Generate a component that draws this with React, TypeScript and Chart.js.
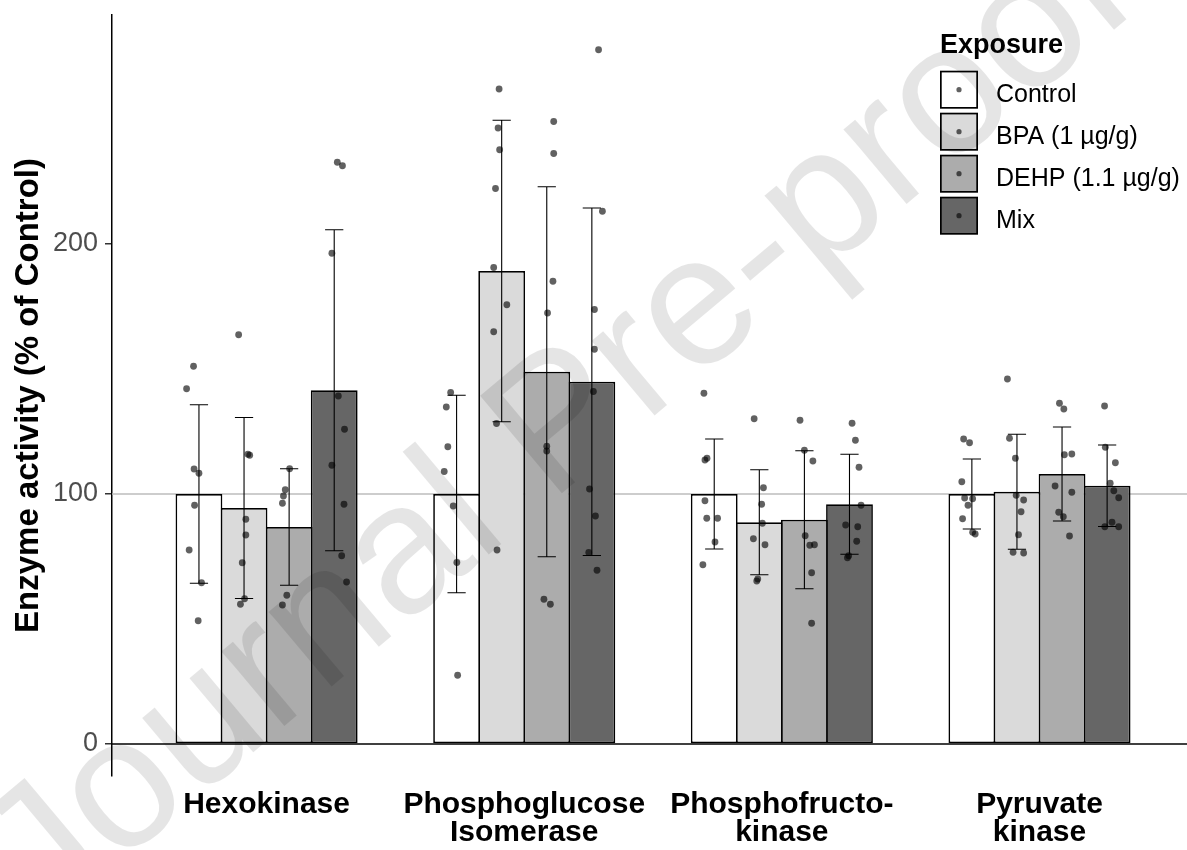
import React, { useEffect, useRef } from 'react';
import { Chart, registerables } from 'chart.js';

Chart.register(...registerables);

const FONT = "'Liberation Sans', Arial, Helvetica, sans-serif";

// Categories (x axis tick labels, multi-line)
const enzymeLabels = [
  ['Hexokinase'],
  ['Phosphoglucose', 'Isomerase'],
  ['Phosphofructo-', 'kinase'],
  ['Pyruvate', 'kinase'],
];
const exposures = ['Control', 'BPA (1 µg/g)', 'DEHP (1.1 µg/g)', 'Mix'];
const fills = ['#FFFFFF', '#DADADA', '#ACACAC', '#666666'];

// Bar means (% of control)
const meanControl = [100, 100, 100, 100];
const meanBPA = [94.4, 189.2, 88.7, 100.9];
const meanDEHP = [86.8, 148.9, 89.7, 108.0];
const meanMix = [141.5, 144.9, 95.9, 103.3];

// Error bar half-lengths
const sdControl = [35.7, 39.5, 22.0, 14.0];
const sdBPA = [36.2, 60.3, 21.0, 23.0];
const sdDEHP = [23.3, 74.0, 27.6, 18.8];
const sdMix = [64.2, 69.5, 20.0, 16.3];

// Individual observations per enzyme
const valuesControl = [
  [151.1, 142.1, 110.0, 108.3, 95.5, 77.6, 64.5, 49.3],
  [140.6, 134.8, 118.9, 109.0, 95.2, 72.6, 27.5],
  [140.3, 114.3, 113.6, 97.3, 90.3, 90.3, 80.8, 71.7],
  [122.0, 120.5, 104.9, 98.4, 98.1, 95.5, 90.1, 84.7, 84.0],
];
const valuesBPA = [
  [163.7, 115.9, 115.5, 89.9, 83.6, 72.5, 58.1, 55.9],
  [262.0, 246.4, 237.7, 222.2, 190.6, 175.7, 164.9, 128.2, 77.6],
  [130.1, 102.5, 95.9, 88.3, 82.1, 79.7, 66.0, 65.2],
  [146.0, 122.3, 114.3, 99.5, 97.6, 92.9, 83.7, 76.7, 76.4],
];
const valuesDEHP = [
  [110.1, 101.7, 99.2, 96.3, 59.5, 55.6],
  [249.0, 236.2, 185.1, 172.4, 119.1, 117.2, 57.9, 55.9],
  [129.5, 117.5, 113.2, 83.3, 79.5, 79.7, 68.5, 48.3],
  [136.3, 134.0, 115.7, 116.0, 103.2, 100.7, 92.7, 90.9, 83.2],
];
const valuesMix = [
  [232.7, 231.3, 196.3, 139.2, 125.9, 111.5, 95.9, 75.3, 64.8],
  [277.7, 213.1, 173.8, 157.9, 141.0, 102.0, 91.2, 76.6, 69.5],
  [128.3, 121.5, 110.7, 95.5, 87.6, 86.9, 81.1, 75.3, 74.5],
  [135.2, 118.7, 112.5, 104.3, 101.3, 98.5, 88.7, 86.9, 86.9],
];

const jitterControl = [
  [-0.021, -0.048, -0.019, 0.0, -0.017, -0.038, 0.01, -0.003],
  [-0.023, -0.04, -0.034, -0.048, -0.013, 0.001, 0.004],
  [-0.04, -0.028, -0.036, -0.036, -0.029, 0.013, 0.003, -0.044],
  [-0.032, -0.009, -0.039, -0.028, 0.003, -0.015, -0.036, 0.003, 0.013],
];
const jitterBPA = [
  [-0.021, 0.015, 0.022, 0.007, 0.007, -0.007, 0.002, -0.014],
  [-0.01, -0.014, -0.008, -0.024, -0.031, 0.02, -0.031, -0.02, -0.018],
  [-0.02, 0.016, 0.009, 0.012, -0.023, 0.022, -0.006, -0.01],
  [-0.037, -0.029, -0.006, -0.003, 0.026, 0.016, 0.006, -0.015, 0.026],
];
const jitterDEHP = [
  [0.002, -0.015, -0.022, -0.026, -0.009, -0.026],
  [0.027, 0.027, 0.024, 0.003, 0.0, 0.0, -0.011, 0.014],
  [-0.017, 0.0, 0.033, 0.003, 0.021, 0.039, 0.028, 0.028],
  [-0.01, 0.007, 0.009, 0.038, -0.027, 0.038, -0.013, 0.005, 0.029],
];
const jitterMix = [
  [0.012, 0.032, -0.009, 0.016, 0.04, -0.009, 0.038, 0.029, 0.048],
  [0.026, 0.041, 0.01, 0.01, 0.006, -0.009, 0.014, -0.012, 0.02],
  [0.01, 0.023, 0.037, 0.045, -0.015, 0.032, 0.028, -0.003, -0.008],
  [-0.01, -0.007, 0.032, 0.012, 0.026, 0.045, 0.019, -0.009, 0.045],
];

const yTicks = [0, 100, 200];
const referenceValue = 100;

const means = [meanControl, meanBPA, meanDEHP, meanMix];
const sds = [sdControl, sdBPA, sdDEHP, sdMix];
const pointValues = [valuesControl, valuesBPA, valuesDEHP, valuesMix];
const pointJitter = [jitterControl, jitterBPA, jitterDEHP, jitterMix];

const GROUP_WIDTH = 0.7;
const dodge = (e: number) => (e - (exposures.length - 1) / 2) * (GROUP_WIDTH / exposures.length);
const CAP_HALF = 0.0354;

const decorPlugin = {
  id: 'decor',
  beforeDatasetsDraw(chart: any) {
    const { ctx, chartArea, scales } = chart;
    const y = scales.y.getPixelForValue(referenceValue);
    ctx.save();
    ctx.strokeStyle = '#BDBDBD';
    ctx.lineWidth = 1.3;
    ctx.beginPath();
    ctx.moveTo(chartArea.left, y);
    ctx.lineTo(chart.width, y);
    ctx.stroke();
    ctx.restore();
  },
  afterDatasetDraw(chart: any, args: any) {
    if (args.index !== 0) return; // Control bars are drawn last among bars
    const { ctx, chartArea, scales } = chart;
    const xs = scales.x;
    const ys = scales.y;
    ctx.save();
    const y0 = ys.getPixelForValue(0);
    ctx.strokeStyle = '#000';
    ctx.lineWidth = 1.6;
    ctx.beginPath();
    ctx.moveTo(chartArea.left, y0);
    ctx.lineTo(chart.width, y0);
    ctx.stroke();
    ctx.lineWidth = 1.1;
    const capPx = xs.getPixelForValue(1 + CAP_HALF) - xs.getPixelForValue(1);
    means.forEach((arr, e) => {
      arr.forEach((m, i) => {
        const cx = xs.getPixelForValue(i + 1 + dodge(e));
        const yt = ys.getPixelForValue(m + sds[e][i]);
        const yb = ys.getPixelForValue(m - sds[e][i]);
        ctx.beginPath();
        ctx.moveTo(cx, yt);
        ctx.lineTo(cx, yb);
        ctx.moveTo(cx - capPx, yt);
        ctx.lineTo(cx + capPx, yt);
        ctx.moveTo(cx - capPx, yb);
        ctx.lineTo(cx + capPx, yb);
        ctx.stroke();
      });
    });
    ctx.restore();
  },
  afterDraw(chart: any) {
    const { ctx } = chart;
    ctx.save();
    const lx = 940;
    ctx.fillStyle = '#000';
    ctx.textAlign = 'left';
    ctx.textBaseline = 'alphabetic';
    ctx.font = `bold 27px ${FONT}`;
    ctx.fillText('Exposure', lx, 53);
    exposures.forEach((name, e) => {
      const top = 70.7 + e * 42;
      const size = 38;
      ctx.fillStyle = fills[e];
      ctx.fillRect(lx + 0.85, top + 0.85, size - 1.7, size - 1.7);
      ctx.strokeStyle = '#000';
      ctx.lineWidth = 1.7;
      ctx.strokeRect(lx + 0.85, top + 0.85, size - 1.7, size - 1.7);
      ctx.fillStyle = 'rgba(0,0,0,0.62)';
      ctx.beginPath();
      ctx.arc(lx + size / 2, top + size / 2, 2.6, 0, Math.PI * 2);
      ctx.fill();
      ctx.fillStyle = '#000';
      ctx.font = `25px ${FONT}`;
      ctx.fillText(name, 996, top + 31);
    });
    // Watermark
    ctx.translate(46, 926);
    ctx.rotate((-40 * Math.PI) / 180);
    ctx.font = `185px ${FONT}`;
    ctx.fillStyle = 'rgba(0,0,0,0.1)';
    ctx.fillText('Journal Pre-proof', 0, 0);
    ctx.restore();
  },
};

export default function App() {
  const canvasRef = useRef<HTMLCanvasElement | null>(null);

  useEffect(() => {
    if (!canvasRef.current) return;
    const barDatasets = exposures.map((name, e) => ({
      type: 'bar' as const,
      label: name,
      data: means[e].map((v, i) => ({ x: i + 1, y: v })),
      backgroundColor: fills[e],
      borderColor: '#000',
      borderWidth: 1.7,
      borderSkipped: false,
      inflateAmount: 0,
      categoryPercentage: GROUP_WIDTH,
      barPercentage: 1.038,
      order: e + 1,
    }));
    const pointDatasets = exposures.map((name, e) => ({
      type: 'scatter' as const,
      label: name + ' observations',
      data: pointValues[e].flatMap((vals, i) =>
        vals.map((v, k) => ({ x: i + 1 + dodge(e) + pointJitter[e][i][k], y: v }))
      ),
      pointRadius: 3.4,
      pointBackgroundColor: 'rgba(0,0,0,0.62)',
      pointBorderColor: 'rgba(0,0,0,0)',
      pointBorderWidth: 0,
      order: 0,
    }));

    const chart = new Chart(canvasRef.current, {
      type: 'bar',
      data: { datasets: [...barDatasets, ...pointDatasets] as any },
      options: {
        animation: false,
        responsive: false,
        devicePixelRatio: 1,
        events: [],
        layout: { padding: { left: 0, right: 0, top: 15, bottom: 0 } },
        plugins: { legend: { display: false }, tooltip: { enabled: false } },
        scales: {
          x: {
            type: 'linear',
            offset: false,
            bounds: 'data',
            min: 0.4,
            max: 4.557,
            afterBuildTicks: (s: any) => {
              s.ticks = enzymeLabels.map((_, i) => ({ value: i + 1 }));
            },
            afterFit: (s: any) => {
              s.height = 74;
              s.paddingLeft = 0;
              s.paddingRight = 0;
            },
            ticks: {
              callback: (v: any) => enzymeLabels[Math.round(v) - 1] ?? '',
              font: { family: FONT, size: 30, weight: 'bold', lineHeight: 0.95 },
              color: '#000',
              padding: 14,
              maxRotation: 0,
              autoSkip: false,
            },
            grid: { display: false, drawTicks: false, offset: false },
            border: { display: false },
          },
          y: {
            type: 'linear',
            min: -12.8,
            max: 291.6,
            afterBuildTicks: (s: any) => {
              s.ticks = yTicks.map((v) => ({ value: v }));
            },
            afterFit: (s: any) => {
              s.width = 112;
              s.paddingTop = 0;
              s.paddingBottom = 0;
            },
            ticks: {
              font: { family: FONT, size: 27 },
              color: '#4D4D4D',
              padding: 7,
            },
            grid: { drawOnChartArea: false, drawTicks: true, tickLength: 7, color: '#333', lineWidth: 1.5 },
            border: { display: true, color: '#000', width: 1.5 },
            title: {
              display: true,
              text: 'Enzyme activity (% of Control)',
              font: { family: FONT, size: 33, weight: 'bold' },
              color: '#000',
              padding: { top: 9.5, bottom: 0 },
            },
          },
        },
      } as any,
      plugins: [decorPlugin],
    });
    return () => chart.destroy();
  }, []);

  return (
    <div style={{ position: 'absolute', left: 0, top: 0, width: 1187, height: 850, background: '#fff' }}>
      <canvas ref={canvasRef} width={1187} height={850} style={{ display: 'block' }} />
    </div>
  );
}
